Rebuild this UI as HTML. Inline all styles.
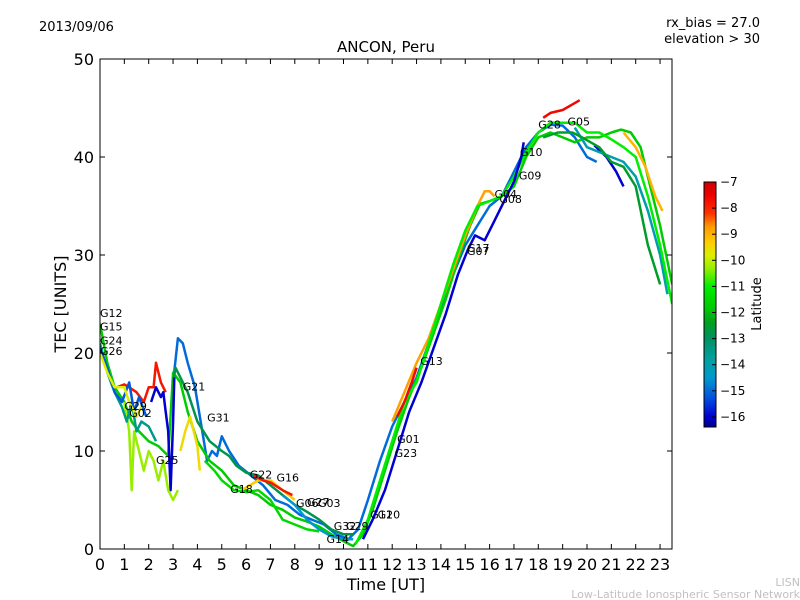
<!DOCTYPE html>
<html><head><meta charset="utf-8"><style>
html,body{margin:0;padding:0;background:#fff;}
svg{display:block;font-family:"DejaVu Sans","Liberation Sans",sans-serif;}
</style></head><body>
<svg id="chart" width="800" height="600" viewBox="0 0 800 600" xmlns="http://www.w3.org/2000/svg">
<rect x="0" y="0" width="800" height="600" fill="#fff"/>
<text x="39" y="31" font-size="13">2013/09/06</text>
<text x="760" y="27" font-size="13" text-anchor="end">rx_bias = 27.0</text>
<text x="760" y="43" font-size="13" text-anchor="end">elevation &gt; 30</text>
<text x="386" y="52" font-size="15" text-anchor="middle">ANCON, Peru</text>
<text x="0" y="0" font-size="16" text-anchor="middle" transform="translate(66,304) rotate(-90)">TEC [UNITS]</text>
<text x="386" y="590" font-size="16" text-anchor="middle">Time [UT]</text>
<text x="800" y="586" font-size="11" fill="#c0c0c0" text-anchor="end">LISN</text>
<text x="800" y="598" font-size="11" fill="#c0c0c0" text-anchor="end">Low-Latitude Ionospheric Sensor Network</text>
<defs><clipPath id="clip"><rect x="100" y="59" width="572" height="490"/></clipPath>
<linearGradient id="jet" x1="0" y1="1" x2="0" y2="0"></linearGradient></defs>
<g id="plot" clip-path="url(#clip)"></g>
<g id="labels"></g>
<g id="axes"></g>
<rect x="704" y="182" width="12" height="245" fill="url(#jet)" stroke="#000" stroke-width="1"/>
<g id="cbticks"></g>
<text x="0" y="0" font-size="13" text-anchor="middle" transform="translate(761,304) rotate(-90)">Latitude</text>
</svg>
<script>
const xTicks=[0,1,2,3,4,5,6,7,8,9,10,11,12,13,14,15,16,17,18,19,20,21,22,23];
const yTicks=[0,10,20,30,40,50];
const cbTicks=[-7,-8,-9,-10,-11,-12,-13,-14,-15,-16];
const trackLats=[-15,-11.8,-12.8,-7.8,-16,-9.5,-9.3,-7.8,-10.3,-8.8,-7.6,-9,-16,-14,-11,-16,-7.6,-12.5,-13.5,-15.2,-9.8,-11.5,-14.5];
const trackPts=[
[[3.0,17],[3.2,21.5],[3.4,21],[3.6,19],[3.9,16.5],[4.2,12],[4.4,9],[4.6,10],[4.8,9.5],[5.0,11.5],[5.3,10],[5.7,8.5],[6.2,7.5],[6.7,6.5],[7.2,5],[7.7,4.5],[8.2,3.5],[8.7,3],[9.2,2.5],[9.7,1.5],[10.2,1],[10.6,2],[11,5],[11.5,9],[12,12.5],[12.5,15],[13,17.5],[13.5,21],[14,24.5],[14.5,28],[15,31],[15.5,33],[16,35],[16.5,36],[17,38.5],[17.5,41],[18,42.5],[18.5,43.3],[19,43.2],[19.5,42],[20,40],[20.4,39.5]],
[[0,23],[0.3,19],[0.6,16.5],[1,15],[1.3,13],[1.6,12],[2,11],[2.4,10.5],[2.8,9.5],[3.0,18],[3.3,17],[3.6,14],[4,11],[4.5,9],[5,8],[5.5,6.5],[6,6],[6.5,5.5],[7,4.5],[7.5,4],[8,3.2],[8.5,2.8],[9,2.3],[9.5,1.5],[10,0.8],[10.4,0.3],[10.8,1.5],[11.2,4],[11.7,8],[12.2,12],[12.7,15.5],[13.2,18.5],[13.7,22],[14.2,25.5],[14.7,29.5],[15.2,33],[15.6,35.2],[16,35.5],[16.5,36],[17,37],[17.5,40],[18,42],[18.5,42.5],[19,42],[19.5,41.5],[20,42],[20.5,42],[21,42.5],[21.4,42.8],[21.8,42.5],[22.2,41],[22.6,37],[23,33],[23.5,27]],
[[3.0,17],[3.1,18.5],[3.3,17.5],[3.6,16],[4,13],[4.5,11],[5,10],[5.3,9.5],[5.6,8.5],[6,7.8],[6.5,7.5],[7,6.5],[7.5,5.5],[8,4.5],[8.5,3.8],[9,3],[9.5,2],[10,1.5],[10.4,1.5]],
[[0.7,16.5],[1.0,16.8],[1.2,16.5],[1.5,16],[1.8,15],[2,16.5],[2.2,16.5],[2.3,19],[2.5,17],[2.7,16]],
[[2.1,15],[2.3,16.5],[2.5,15.5],[2.6,16],[2.7,14],[2.8,12],[2.9,6],[3.0,13],[3.05,17.5]],
[[3.3,10],[3.5,12],[3.7,13.5],[4.0,10.5],[4.1,8]],
[[5.8,6],[6.5,7],[7,7],[7.5,6],[8,5]],
[[6.3,7.5],[6.7,7],[7,6.8],[7.5,6],[7.9,5.5]],
[[1.0,15],[1.2,12],[1.3,6],[1.4,12],[1.6,10],[1.8,8],[2,10],[2.2,9],[2.4,7],[2.6,9],[2.8,6],[3,5],[3.2,6]],
[[12,13],[12.5,16],[13,19],[13.5,21.5],[14,25],[14.5,28.5],[15,32],[15.5,35],[15.8,36.5],[16,36.5],[16.2,36]],
[[18.2,44],[18.5,44.5],[19,44.8],[19.5,45.5],[19.7,45.8]],
[[21.5,42.5],[22,41],[22.4,39],[22.8,36],[23.1,34.5]],
[[20.3,41.2],[20.8,40],[21.2,38.5],[21.5,37]],
[[19.5,43],[20,41],[21,40],[21.5,39.5],[22,38],[22.5,34.5],[23,30],[23.3,26]],
[[10.5,0.5],[11,3],[11.5,7],[12,11],[12.5,15],[13,17],[13.5,21],[14,25],[14.5,29],[15,32.5],[15.5,35],[16,35.5],[16.5,36],[17,38],[17.5,40.5],[18,42.5],[18.5,43.5],[19,43.5],[19.5,43.5],[20,42.5],[20.5,42.5],[21,41.8],[21.5,41],[22,40],[22.5,36],[23,31],[23.5,25]],
[[10.8,1],[11.2,3],[11.7,6],[12.2,10],[12.7,14],[13.2,17],[13.7,20.5],[14.2,24],[14.7,28],[15.1,30.5],[15.4,32],[15.8,31.5],[16.2,33.5],[16.6,35.5],[17,37.5],[17.3,40],[17.4,41.5]],
[[12.2,13.5],[12.5,15],[12.8,17],[13,18.5]],
[[18.2,42],[18.8,42.5],[19.4,42.5],[19.8,42],[20.5,41],[21,39.5],[21.5,39],[22,37],[22.5,31],[23,27]],
[[0,21],[0.3,18],[0.6,16],[0.9,14.5],[1.1,13],[1.3,15],[1.5,12],[1.7,13],[2,12.5],[2.3,11]],
[[0,20.5],[0.3,18.5],[0.6,16],[0.9,15],[1.2,17],[1.4,14],[1.6,15.5],[1.9,13.5]],
[[0,20],[0.3,18],[0.6,16.5],[1,16.5],[1.2,15],[1.5,13.5],[1.7,14.5]],
[[4.3,9],[4.7,8],[5,7],[5.5,6],[6,5.8],[6.5,6],[7,5],[7.5,3],[8,2.5],[8.5,2],[9,1.8]],
[[7.5,5.5],[8,4.5],[8.5,3],[9,2],[9.5,1.3],[10,1],[10.4,1]]
];
const labelNames=["G12","G15","G24","G26","G21","G29","G02","G31","G25","G01","G23","G13","G22","G16","G18","G06","G27","G03","G32","G29","G14","G11","G20","G17","G07","G04","G08","G09","G10","G28","G05"];
const labelT=[0,0,0,0,3.4,1.0,1.2,4.4,2.3,12.2,12.1,13.15,6.15,7.25,5.35,8.05,8.5,8.95,9.6,10.1,9.3,11.1,11.4,15.07,15.07,16.2,16.4,17.2,17.25,18.0,19.2];
const labelV=[24.1,22.7,21.3,20.2,16.6,14.6,13.9,13.4,9.1,11.2,9.8,19.2,7.6,7.3,6.1,4.7,4.8,4.7,2.35,2.35,1.0,3.5,3.5,30.7,30.4,36.2,35.7,38.1,40.5,43.3,43.6];

const NS="http://www.w3.org/2000/svg";
const X0=100,X1=672,Y0=549,Y1=59;
const sx=t=>X0+t*24.35;
const sy=v=>Y0-(v/50)*(Y0-Y1);
const cy=l=>182+(-7-l)*26.1;
const cmapLat=[-16.4,-16,-15.3,-14.5,-13.8,-13,-12.4,-11.8,-11,-10.3,-9.8,-9.3,-8.7,-8.2,-7.5,-7];
const cmapCol=[[0,0,144],[0,0,208],[0,80,224],[0,153,204],[0,160,160],[0,144,96],[0,160,32],[0,204,0],[0,238,0],[153,238,0],[221,238,0],[255,204,0],[255,153,0],[255,51,0],[238,0,0],[204,0,0]];
function cmap(l){
  if(l<=cmapLat[0])return `rgb(${cmapCol[0]})`;
  for(let i=1;i<cmapLat.length;i++){if(l<=cmapLat[i]){const f=(l-cmapLat[i-1])/(cmapLat[i]-cmapLat[i-1]);const a=cmapCol[i-1],b=cmapCol[i];return `rgb(${a.map((v,k)=>Math.round(v+(b[k]-v)*f)).join(',')})`;}}
  return `rgb(${cmapCol[cmapCol.length-1]})`;
}
function mk(tag,attrs,parent){const e=document.createElementNS(NS,tag);for(const k in attrs)e.setAttribute(k,attrs[k]);parent.appendChild(e);return e;}
const grad=document.getElementById('jet');
cmapLat.forEach((l,i)=>{mk('stop',{offset:((l+16.4)/9.4).toFixed(3),'stop-color':`rgb(${cmapCol[i]})`},grad);});
const plot=document.getElementById('plot');
trackPts.forEach((pts,i)=>{
  const p=mk('polyline',{points:pts.map(q=>sx(q[0]).toFixed(1)+','+sy(q[1]).toFixed(1)).join(' '),fill:'none',stroke:cmap(trackLats[i]),'stroke-width':2.5,'stroke-linejoin':'round'},plot);
  
  
});
const lab=document.getElementById('labels');
labelNames.forEach((n,i)=>{
  const t=mk('text',{x:sx(labelT[i]),y:sy(labelV[i])+4,'font-size':11},lab);
  t.textContent=n;
  
  
});
const ax=document.getElementById('axes');
const fr=mk('rect',{x:X0,y:Y1,width:X1-X0,height:Y0-Y1,fill:'none',stroke:'#000','stroke-width':1},ax);


xTicks.forEach(t=>{
  const x=sx(t);
  mk('line',{x1:x,y1:Y0,x2:x,y2:Y0-5,stroke:'#000'},ax);
  mk('line',{x1:x,y1:Y1,x2:x,y2:Y1+5,stroke:'#000'},ax);
  const tx=mk('text',{x:x,y:Y0+21,'font-size':16,'text-anchor':'middle'},ax);
  tx.textContent=t;
  
  
});
yTicks.forEach(v=>{
  const y=sy(v);
  mk('line',{x1:X0,y1:y,x2:X0+5,y2:y,stroke:'#000'},ax);
  mk('line',{x1:X1,y1:y,x2:X1-5,y2:y,stroke:'#000'},ax);
  const tx=mk('text',{x:X0-6,y:y+6,'font-size':16,'text-anchor':'end'},ax);
  tx.textContent=v;
  
  
});
const cb=document.getElementById('cbticks');
cbTicks.forEach(l=>{
  const y=cy(l);
  mk('line',{x1:712,y1:y,x2:716,y2:y,stroke:'#000'},cb);
  const tx=mk('text',{x:720,y:y+4,'font-size':12},cb);
  tx.textContent='\u2212'+Math.abs(l);
  
  
});
</script>
</body></html>
